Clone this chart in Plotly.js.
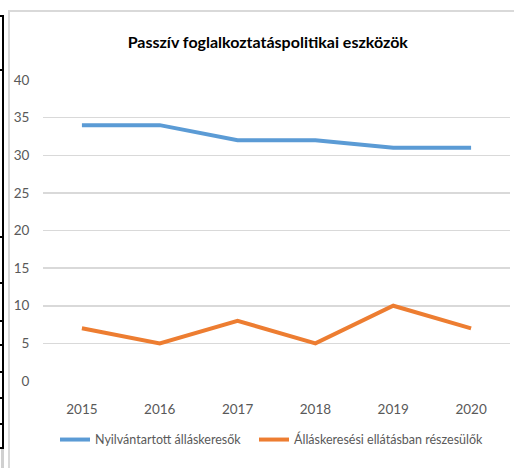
<!DOCTYPE html>
<html>
<head>
<meta charset="utf-8">
<script src="https://cdn.plot.ly/plotly-3.0.1.min.js"></script>
<style>
  html, body { margin: 0; padding: 0; background: #fff; }
  #wrap { position: relative; width: 514px; height: 468px; overflow: hidden; }
  #chart { position: absolute; left: 0; top: 0; width: 514px; height: 468px; }
  .deco { position: absolute; pointer-events: none; }
</style>
</head>
<body>
<div id="wrap">
  <div id="chart"></div>
</div>
<script>
const years = ['2015', '2016', '2017', '2018', '2019', '2020'];
const registered = [34, 34, 32, 32, 31, 31];
const benefitRecipients = [7, 5, 8, 5, 10, 7];
const seriesNames = ['Nyilvántartott álláskeresők', 'Álláskeresési ellátásban részesülők'];
const yTicks = [0, 5, 10, 15, 20, 25, 30, 35, 40];

const fontFam = 'Lato, "Open Sans", sans-serif';

const traces = [
  {
    x: years, y: registered, name: seriesNames[0], type: 'scatter', mode: 'lines',
    line: { color: '#5B9BD5', width: 4 }, legend: 'legend'
  },
  {
    x: years, y: benefitRecipients, name: seriesNames[1], type: 'scatter', mode: 'lines',
    line: { color: '#ED7D31', width: 4 }, legend: 'legend2'
  }
];

const legendBase = {
  orientation: 'h',
  xref: 'container', xanchor: 'left',
  yref: 'container', y: 0.06, yanchor: 'middle',
  font: { family: fontFam, size: 12.5, color: '#595959' },
  itemwidth: 30
};

const layout = {
  width: 514, height: 468,
  margin: { l: 43, r: 4, t: 80, b: 87 },
  paper_bgcolor: 'rgba(0,0,0,0)',
  plot_bgcolor: 'rgba(0,0,0,0)',
  showlegend: true,
  title: {
    text: '<b>Passzív foglalkoztatáspolitikai eszközök</b>',
    font: { family: fontFam, size: 16, color: '#000' },
    xref: 'container', x: 0.521, xanchor: 'center',
    yref: 'container', y: 0.91, yanchor: 'middle'
  },
  xaxis: {
    type: 'category',
    range: [-0.5, 5.5],
    showgrid: false, zeroline: false, showline: false,
    ticks: 'outside', ticklen: 16, tickcolor: 'rgba(0,0,0,0)',
    tickfont: { family: fontFam, size: 13.5, color: '#595959' },
    fixedrange: true
  },
  yaxis: {
    range: [0, 40],
    tickvals: yTicks,
    ticktext: yTicks.map(String),
    showgrid: true, gridcolor: '#D9D9D9', gridwidth: 1.5,
    zeroline: false, showline: false,
    ticks: 'outside', ticklen: 10, tickcolor: 'rgba(0,0,0,0)',
    tickfont: { family: fontFam, size: 13.5, color: '#595959' },
    fixedrange: true
  },
  legend: Object.assign({}, legendBase, { x: 55 / 514 }),
  legend2: Object.assign({}, legendBase, { x: 254 / 514 })
};

Plotly.newPlot('chart', traces, layout, { displayModeBar: false, staticPlot: true }).then(function () {
  const wrap = document.getElementById('wrap');
  function box(l, t, w, h, c) {
    const d = document.createElement('div');
    d.className = 'deco';
    d.style.left = l + 'px'; d.style.top = t + 'px';
    d.style.width = w + 'px'; d.style.height = h + 'px';
    d.style.background = c;
    wrap.appendChild(d);
  }
  // chart-area border (light gray)
  box(8, 10, 1.5, 458, '#D9D9D9');
  box(8, 10, 506, 1.5, '#D9D9D9');
  // black cropped table edge on the left
  box(2, 15, 2, 433, '#000');
  [15, 69, 236, 282, 320, 344, 371, 397, 423, 447].forEach(function (y) { box(0, y, 4, 2, '#000'); });
  box(1, 449, 3, 19, '#D0D0D0');
});
</script>
</body>
</html>
